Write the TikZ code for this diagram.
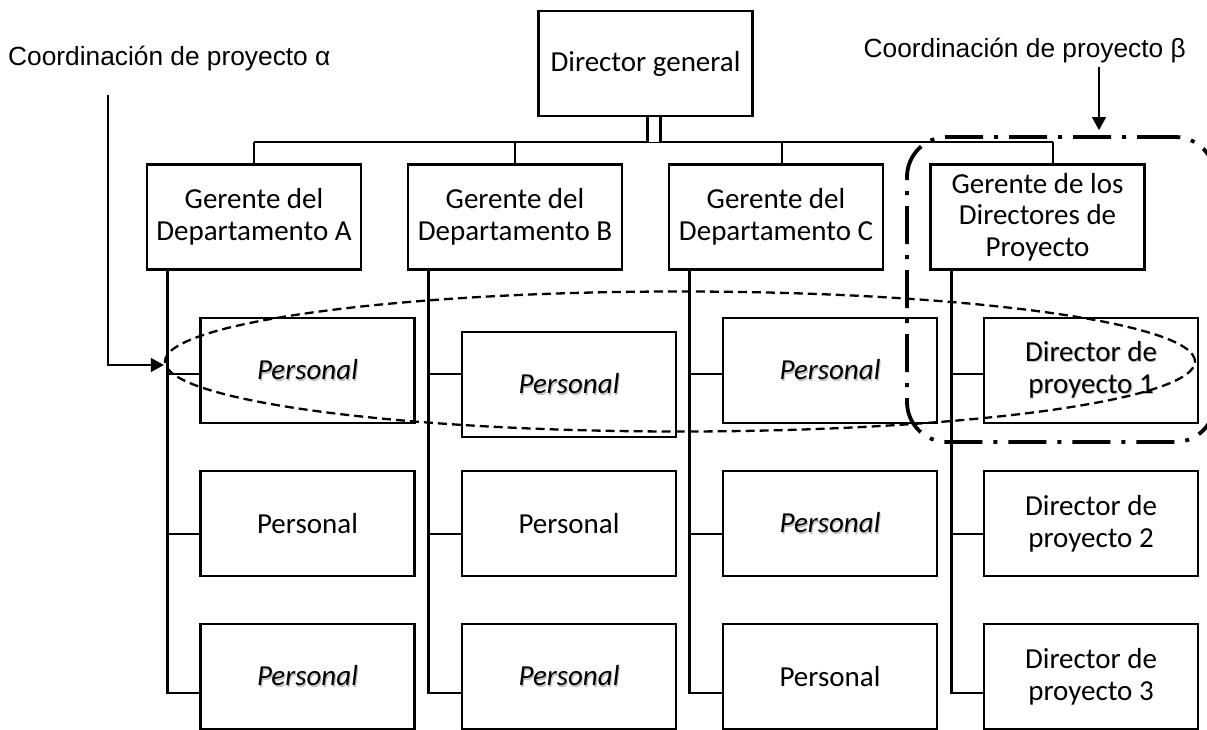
\documentclass[tikz,border=0pt]{standalone}
\usepackage{fontspec}
\setmainfont{Carlito}
\newfontfamily\labelfont{Liberation Sans}
\usetikzlibrary{arrows.meta,shapes.geometric,calc}

% text with a soft grey drop shadow
\newcommand{\shd}[1]{\makebox[0pt][l]{\hspace{1.1pt}\raisebox{-1.1pt}{\textcolor{black!25}{#1}}}#1}

\tikzset{
  orgbox/.style={draw, line width=2.8pt, minimum width=214pt, minimum height=105pt,
    inner sep=0pt, align=center, font=\fontsize{29}{31.7}\selectfont},
  conn/.style={line width=2.8pt},
  note/.style={font=\labelfont\fontsize{26.3}{30}\selectfont, inner sep=0pt},
  pointer/.style={line width=1.2pt, -{Triangle[length=13pt,width=14pt]}},
  groupalpha/.style={draw, ellipse, line width=2.3pt, dash pattern=on 9pt off 5pt,
    inner sep=0pt, minimum width=1030pt, minimum height=140pt},
  groupbeta/.style={draw, rectangle, rounded corners=40pt, line width=3.8pt,
    dash pattern=on 38pt off 11pt on 4pt off 11pt,
    inner sep=0pt, minimum width=308pt, minimum height=305pt},
}

\begin{document}
\begin{tikzpicture}[x=1pt, y=-1pt]
\useasboundingbox (0,0) rectangle (1207,730);
\clip (0,0) rectangle (1207,730);

% top of the hierarchy
\node[orgbox] (dg) at (645.5,63.5) {Director general};

% department managers
\node[orgbox] (gA) at (254,217) {Gerente del\\Departamento A};
\node[orgbox] (gB) at (515,217) {Gerente del\\Departamento B};
\node[orgbox] (gC) at (776,217) {Gerente del\\Departamento C};
\node[orgbox] (gD) at (1037.5,217) {Gerente de los\\Directores de\\Proyecto};

% staff, first row
\node[orgbox] (pA1) at (307.5,370.5) {\itshape\shd{Personal}};
\node[orgbox] (pB1) at (569,384.5) {\itshape\shd{Personal}};
\node[orgbox] (pC1) at (830,370.5) {\itshape\shd{Personal}};
\node[orgbox] (pD1) at (1091,370.5) {\shd{Director de}\\\shd{proyecto 1}};

% staff, second row
\node[orgbox] (pA2) at (307.5,523.5) {Personal};
\node[orgbox] (pB2) at (569,523.5) {Personal};
\node[orgbox] (pC2) at (830,523.5) {\itshape\shd{Personal}};
\node[orgbox] (pD2) at (1091,523.5) {Director de\\proyecto 2};

% staff, third row
\node[orgbox] (pA3) at (307.5,676.5) {\itshape\shd{Personal}};
\node[orgbox] (pB3) at (569,676.5) {\itshape\shd{Personal}};
\node[orgbox] (pC3) at (830,676.5) {Personal};
\node[orgbox] (pD3) at (1091,676.5) {Director de\\proyecto 3};

% bar joining the managers to the general director
\coordinate (bA) at (254,142);
\coordinate (bB) at (515,142);
\coordinate (bC) at (782,142);
\coordinate (bD) at (1053,142);
\draw[conn] (bA) -- (bD);
\draw[conn, double, double distance=10.5pt] ([xshift=8.5pt]dg.south) -- ([xshift=8.5pt]dg.south |- bA);
\draw[conn] (bA) -- (gA.north);
\draw[conn] (bB) -- (gB.north);
\draw[conn] (bC) -- (bC |- gC.north);
\draw[conn] (bD) -- (bD |- gD.north);

% spines from each manager to their staff
\foreach \c in {A,B,C,D}{
  \coordinate (t\c) at ([xshift=22pt]g\c.south west);
  \draw[conn] (t\c) |- ([yshift=-16.5pt]p\c3.west);
  \draw[conn] ([yshift=-10.5pt]p\c2.west) -- ([yshift=-10.5pt]p\c2.west -| t\c);
}
\foreach \c in {A,C,D}{
  \draw[conn] ([yshift=-3.5pt]p\c1.west) -- ([yshift=-3.5pt]p\c1.west -| t\c);
}
\draw[conn] ([yshift=10.5pt]pB1.west) -- ([yshift=10.5pt]pB1.west -| tB);

% coordination groups
\node[groupalpha] (grpA) at (680,361.5) {};
\node[groupbeta] (grpB) at (1061,289.5) {};

% group labels and their pointers
\node[note, anchor=base west] (la) at (8,66) {Coordinación de proyecto α};
\node[note, anchor=base east] (lb) at (1186,58) {Coordinación de proyecto β};
\coordinate (sa) at (108,95);
\coordinate (sb) at (1099,67);
\draw[pointer] (sa) |- ([yshift=-3.5pt]grpA.west);
\draw[pointer, shorten >=5pt] (sb) -- (sb |- grpB.north);
\end{tikzpicture}
\end{document}
